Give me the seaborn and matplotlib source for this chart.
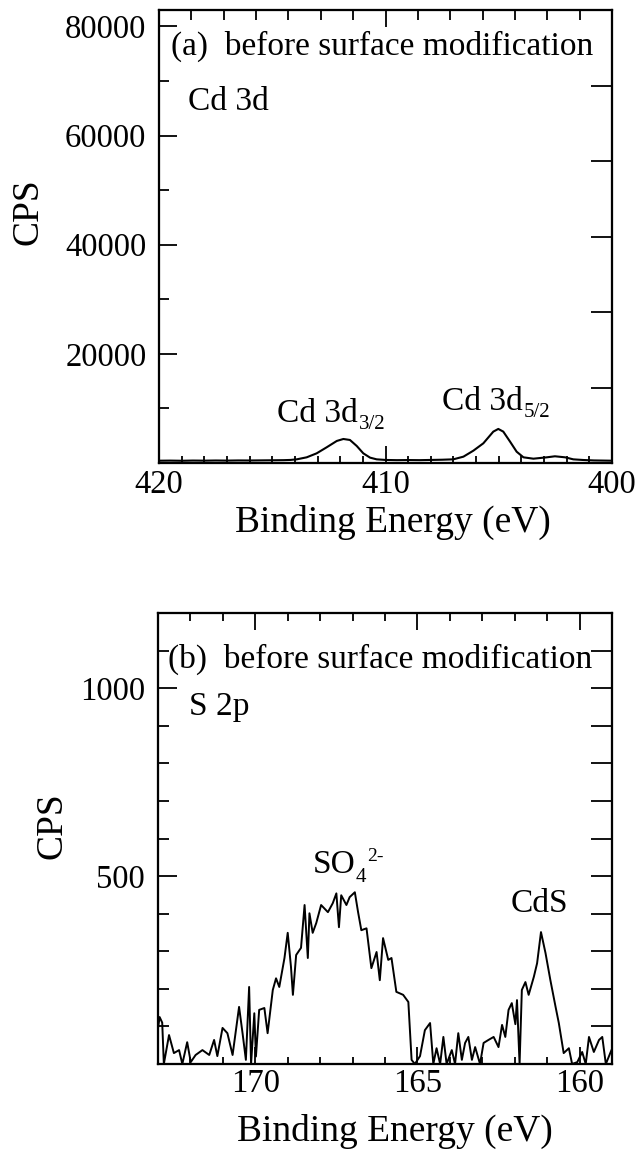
import matplotlib
matplotlib.use("Agg")
import matplotlib.pyplot as plt
from matplotlib.ticker import MultipleLocator, FixedLocator
import pandas as pd
import seaborn as sns

# ---- Cd 3d spectrum (panel a) ----
cd_energy = [420.0, 419.5, 419.0, 418.5, 418.0, 417.5, 417.0, 416.5, 416.0, 415.5,
             415.0, 414.5, 414.2, 413.92, 413.48, 413.04, 412.60, 412.15, 411.86,
             411.57, 411.27, 410.98, 410.68, 410.39, 410.0, 409.5, 409.0, 408.5,
             408.0, 407.5, 407.01, 406.56, 406.12, 405.68, 405.24, 405.02, 404.80,
             404.50, 404.21, 403.91, 403.47, 402.88, 402.52, 402.07, 401.71, 401.27,
             400.8, 400.0]
cd_cps = [420, 440, 410, 450, 430, 460, 440, 470, 460, 480,
          500, 520, 560, 670, 1040, 1770, 2870, 4040, 4400,
          4220, 3120, 1770, 980, 670, 560, 520, 540, 520,
          560, 600, 670, 1160, 2260, 3610, 5750, 6240, 5750,
          3910, 2070, 1040, 790, 1040, 1230, 1040, 670, 550,
          470, 420]

# ---- S 2p spectrum (panel b) ----
s_energy = [173.00, 172.95, 172.87, 172.82, 172.66, 172.51, 172.35, 172.25, 172.10, 171.99,
            171.84, 171.63, 171.42, 171.27, 171.17, 171.01, 170.86, 170.70, 170.50, 170.39,
            170.29, 170.19, 170.13, 170.03, 169.98, 169.88, 169.72, 169.62, 169.46, 169.36,
            169.26, 169.10, 169.00, 168.90, 168.84, 168.74, 168.59, 168.48, 168.38, 168.33,
            168.23, 168.12, 167.97, 167.76, 167.61, 167.50, 167.42, 167.35, 167.19, 167.09,
            166.93, 166.83, 166.73, 166.57, 166.42, 166.26, 166.16, 166.06, 165.90, 165.80,
            165.65, 165.44, 165.28, 165.18, 165.08, 164.92, 164.77, 164.61, 164.51, 164.41,
            164.30, 164.20, 164.10, 163.94, 163.84, 163.74, 163.63, 163.53, 163.43, 163.32,
            163.22, 163.07, 162.96, 162.81, 162.65, 162.50, 162.39, 162.29, 162.19, 162.09,
            161.98, 161.93, 161.85, 161.78, 161.67, 161.57, 161.41, 161.31, 161.19, 161.05,
            160.90, 160.74, 160.64, 160.49, 160.33, 160.23, 160.07, 159.92, 159.81, 159.71,
            159.56, 159.40, 159.30, 159.19, 159.04, 159.00]
s_cps = [95, 125, 110, 0, 77, 29, 37, 0, 58, 5,
         24, 37, 24, 64, 21, 96, 82, 24, 152, 80,
         11, 205, 0, 135, 20, 144, 149, 82, 197, 228,
         205, 282, 349, 259, 184, 290, 309, 423, 282, 401,
         349, 375, 423, 404, 428, 454, 364, 449, 423, 444,
         457, 404, 356, 361, 255, 298, 223, 335, 277, 282,
         192, 184, 165, 11, 0, 21, 90, 109, 0, 42,
         0, 72, 0, 37, 0, 82, 11, 56, 72, 11,
         45, 0, 56, 64, 72, 45, 104, 72, 144, 162,
         106, 170, 0, 197, 218, 184, 232, 268, 351, 295,
         223, 152, 109, 29, 42, 0, 5, 32, 0, 72,
         32, 64, 72, 0, 32, 40]

cd_xticks = [420, 410, 400]
cd_yticks = [20000, 40000, 60000, 80000]
s_xticks = [170, 165, 160]
s_yticks = [500, 1000]

sns.set_style("ticks")
plt.rcParams["font.family"] = ["Liberation Serif", "DejaVu Serif"]
plt.rcParams["text.color"] = "black"
plt.rcParams["axes.labelcolor"] = "black"
plt.rcParams["axes.edgecolor"] = "black"
plt.rcParams["xtick.color"] = "black"
plt.rcParams["ytick.color"] = "black"

W, H = 638, 1150
fig = plt.figure(figsize=(W / 100, H / 100), dpi=100)
ax1 = fig.add_axes([159 / W, 1 - 463 / H, 453 / W, 453 / H])
ax2 = fig.add_axes([158 / W, 1 - 1064 / H, 454 / W, 451 / H])

LW = 1.5
TICK_FS = 23.5
LABEL_FS = 27
TEXT_FS = 24
SCRIPT_FS = 15

cd_df = pd.DataFrame({"energy": cd_energy, "cps": cd_cps})
s_df = pd.DataFrame({"energy": s_energy, "cps": s_cps})

sns.lineplot(data=cd_df, x="energy", y="cps", ax=ax1, color="black",
             linewidth=1.5, estimator=None, sort=False)
sns.lineplot(data=s_df, x="energy", y="cps", ax=ax2, color="black",
             linewidth=1.4, estimator=None, sort=False)


def frame(ax):
    for sp in ax.spines.values():
        sp.set_visible(True)
        sp.set_linewidth(LW)
        sp.set_color("black")


def peak_label(ax, x, y, main, sub=None, sup=None, sub_drop=0.0):
    """Main text with a small subscript and/or superscript following it."""
    t = ax.text(x, y, main, fontsize=TEXT_FS, ha="left", va="baseline")
    last = t
    if sub is not None:
        last = ax.annotate(sub, xy=(1, 0), xycoords=t, xytext=(0.5, -sub_drop),
                           textcoords="offset points", fontsize=SCRIPT_FS,
                           ha="left", va="baseline")
    if sup is not None:
        ax.annotate(sup, xy=(1, 0), xycoords=(last, t), xytext=(0.8, 13.5),
                    textcoords="offset points", fontsize=SCRIPT_FS - 1,
                    ha="left", va="baseline")
    return t


# panel (a) axes
ax1.set_xlim(420, 400)
ax1.set_ylim(0, 83000)
ax1.set_xticks(cd_xticks)
ax1.xaxis.set_minor_locator(MultipleLocator(1))
ax1.set_yticks(cd_yticks)
ax1.yaxis.set_minor_locator(MultipleLocator(10000))
ax1.tick_params(which="both", direction="in", width=1.3, top=False, right=False,
                labelsize=TICK_FS, colors="black")
ax1.tick_params(axis="y", which="major", length=13, pad=9)
ax1.tick_params(axis="y", which="minor", length=7)
ax1.tick_params(axis="x", which="major", length=12, pad=5)
ax1.tick_params(axis="x", which="minor", length=5)
frame(ax1)

top1 = ax1.twiny()
top1.set_xlim(0, 14)
top1.set_xticks([7])
top1.xaxis.set_minor_locator(FixedLocator(list(range(1, 14))))
top1.tick_params(which="both", direction="in", width=1.3, labeltop=False)
top1.tick_params(which="major", length=12)
top1.tick_params(which="minor", length=7)
frame(top1)

right1 = ax1.twinx()
right1.set_ylim(0, 6)
right1.set_yticks([1, 2, 3, 4, 5])
right1.tick_params(direction="in", width=1.3, length=15, labelright=False)
frame(right1)

ax1.set_xlabel("Binding Energy (eV)", fontsize=LABEL_FS, va="center")
ax1.set_ylabel("CPS", fontsize=LABEL_FS, va="center")
ax1.xaxis.set_label_coords(0.517, -0.132)
ax1.yaxis.set_label_coords(-0.289, 0.554)

ax1.text(0.026, 0.901, "(a)  before surface modification", transform=ax1.transAxes,
         fontsize=TEXT_FS, ha="left", va="baseline")
ax1.text(0.064, 0.779, "Cd 3d", transform=ax1.transAxes,
         fontsize=TEXT_FS, ha="left", va="baseline")
peak_label(ax1, 414.79, 7520, "Cd 3d", sub="3/2")
peak_label(ax1, 407.51, 9730, "Cd 3d", sub="5/2")

# panel (b) axes
ax2.set_xlim(173, 159)
ax2.set_ylim(0, 1200)
ax2.set_xticks(s_xticks)
ax2.xaxis.set_minor_locator(MultipleLocator(1))
ax2.set_yticks(s_yticks)
ax2.yaxis.set_minor_locator(MultipleLocator(100))
ax2.tick_params(which="both", direction="in", width=1.3, top=False, right=False,
                labelsize=TICK_FS, colors="black")
ax2.tick_params(axis="y", which="major", length=14, pad=9.5)
ax2.tick_params(axis="y", which="minor", length=8)
ax2.tick_params(axis="x", which="major", length=12, pad=3)
ax2.tick_params(axis="x", which="minor", length=5)
frame(ax2)

top2 = ax2.twiny()
top2.set_xlim(173, 159)
top2.set_xticks(s_xticks)
top2.xaxis.set_minor_locator(MultipleLocator(1))
top2.tick_params(which="both", direction="in", width=1.3, labeltop=False)
top2.tick_params(which="major", length=12)
top2.tick_params(which="minor", length=6)
frame(top2)

right2 = ax2.twinx()
right2.set_ylim(0, 1200)
right2.set_yticks(list(range(100, 1200, 100)))
right2.tick_params(direction="in", width=1.3, length=15, labelright=False)
frame(right2)

ax2.set_xlabel("Binding Energy (eV)", fontsize=LABEL_FS, va="center")
ax2.set_ylabel("CPS", fontsize=LABEL_FS, va="center")
ax2.xaxis.set_label_coords(0.522, -0.149)
ax2.yaxis.set_label_coords(-0.233, 0.528)

ax2.text(0.022, 0.878, "(b)  before surface modification", transform=ax2.transAxes,
         fontsize=TEXT_FS, ha="left", va="baseline")
ax2.text(0.068, 0.774, "S 2p", transform=ax2.transAxes,
         fontsize=TEXT_FS, ha="left", va="baseline")
peak_label(ax2, 168.24, 508, "SO", sub="4", sup="2-", sub_drop=1.5)
ax2.text(162.14, 404, "CdS", fontsize=TEXT_FS, ha="left", va="baseline")

fig.savefig("out.png", dpi=100, facecolor="white")
